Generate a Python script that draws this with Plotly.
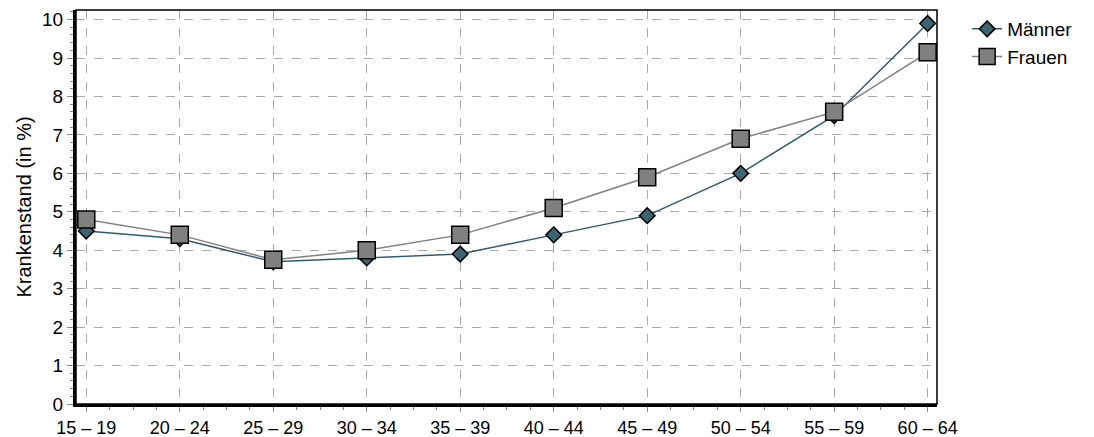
import plotly.graph_objects as go

age_groups = ["15 – 19", "20 – 24", "25 – 29", "30 – 34", "35 – 39",
              "40 – 44", "45 – 49", "50 – 54", "55 – 59", "60 – 64"]
maenner = [4.5, 4.3, 3.7, 3.8, 3.9, 4.4, 4.9, 6.0, 7.5, 9.9]
frauen = [4.8, 4.4, 3.75, 4.0, 4.4, 5.1, 5.9, 6.9, 7.6, 9.15]

xs = list(range(len(age_groups)))

fig = go.Figure()
fig.add_trace(go.Scatter(x=xs, y=maenner, name="Männer", mode="lines+markers",
                         line=dict(color="#2f5b66", width=1.5),
                         marker=dict(symbol="diamond", size=12, color="#3d6470",
                                     line=dict(color="#000", width=1.5))))
fig.add_trace(go.Scatter(x=xs, y=frauen, name="Frauen", mode="lines+markers",
                         line=dict(color="#808080", width=1.5),
                         marker=dict(symbol="square", size=17, color="#808080",
                                     line=dict(color="#000", width=1.5))))

fig.update_layout(
    width=1094, height=437, template="plotly_white",
    font=dict(family="Liberation Sans, Arial", size=17, color="#000"),
    margin=dict(l=68, r=165, t=2, b=41, autoexpand=False),
    legend=dict(x=1.035, y=1.0, xanchor="left", yanchor="top",
                font=dict(size=19), itemwidth=30, tracegroupgap=0),
    plot_bgcolor="white",
)
fig.update_xaxes(range=[-0.11, 9.1], tickvals=xs, ticktext=age_groups, automargin=False,
                 tickfont=dict(size=18),
                 showgrid=True, gridcolor="#aaa", griddash="dash", gridwidth=1,
                 showline=True, linecolor="#000", linewidth=3, mirror=False,
                 ticks="outside", ticklen=5, tickcolor="#888",
                 minor=dict(dtick=0.25, ticks="outside", ticklen=3, tickcolor="#888", showgrid=False),
                 zeroline=False)
fig.update_yaxes(range=[0, 10.25], dtick=1, automargin=False, tickfont=dict(size=19),
                 title=dict(text="Krankenstand (in %)", standoff=6),
                 showgrid=True, gridcolor="#aaa", griddash="dash", gridwidth=1,
                 showline=True, linecolor="#000", linewidth=3,
                 ticks="outside", ticklen=6, tickcolor="#888",
                 minor=dict(dtick=0.2, ticks="outside", ticklen=3, tickcolor="#888", showgrid=False),
                 zeroline=False)
fig.add_shape(type="rect", xref="paper", yref="paper", x0=0, y0=0, x1=1, y1=1,
              line=dict(color="#000", width=1.5), layer="above")

fig.write_html("out.html")
